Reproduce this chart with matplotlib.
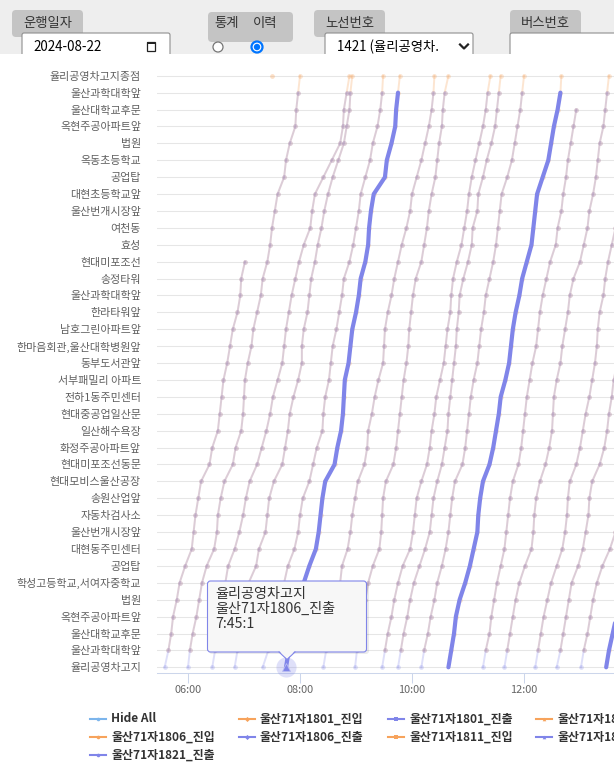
import matplotlib
matplotlib.use('Agg')
import matplotlib.pyplot as plt
from matplotlib.patches import FancyBboxPatch, Rectangle, Polygon, Circle
from matplotlib.lines import Line2D

plt.rcParams['font.family'] = ['Noto Sans CJK KR', 'DejaVu Sans']

# stops, bottom (index 0) to top (index 35)
stops = ['율리공영차고지', '울산과학대학앞', '울산대학교후문', '옥현주공아파트앞', '법원',
         '학성고등학교,서여자중학교', '공업탑', '대현동주민센터', '울산번개시장앞', '자동차검사소',
         '송원산업앞', '현대모비스울산공장', '현대미포조선동문', '화정주공아파트앞', '일산해수욕장',
         '현대중공업일산문', '전하1동주민센터', '서부패밀리 아파트', '동부도서관앞',
         '한마음회관,울산대학병원앞', '남호그린아파트앞', '한라타워앞', '울산과학대학앞', '송정타워',
         '현대미포조선', '효성', '여천동', '울산번개시장앞', '대현초등학교앞', '공업탑',
         '옥동초등학교', '법원', '옥현주공아파트앞', '울산대학교후문', '울산과학대학앞',
         '율리공영차고지종점']

# each trip: minutes after midnight at stop 0, 1, 2, ...
trip_bus = ['1801', '1804', '1811', '1821', '1801', '1806', '1811', '1821', '1801',
            '1804', '1811', '1806', '1821', '1801', '1804', '1811', '1821', '1806']
trip_times = [
    [335, 339, 342, 344, 348, 351, 357, 364, 366, 368, 371, 374, 383, 386, 392, 394, 396, 398, 402, 405, 408, 413, 416, 417, 421],
    [360, 362, 365, 369, 372, 375, 380, 388, 391, 392, 395, 399, 408, 411, 417, 419, 420, 421, 424, 428, 430, 434, 438, 440, 445, 448, 450, 453, 456, 463, 465, 469, 475, 476, 478, 480],
    [386, 389, 391, 394, 398, 400, 403, 410, 415, 419, 422, 426, 434, 439, 444, 448, 451, 456, 461, 463, 465, 468, 471, 475, 479, 484, 491, 493, 496, 505, 514, 523, 526, 527, 530, 533],
    [410, 413, 416, 419, 422, 425, 433, 436, 443, 445, 447, 452, 461, 464, 467, 469, 473, 478, 482, 482, 484, 488, 490, 492, 496, 499, 503, 506, 510, 515, 521, 527, 530, 533, 534, 536],
    [440, 446, 450, 454, 459, 463, 467, 474, 478, 480, 483, 490, 494, 498, 504, 505, 507, 511, 513, 515, 519, 522, 525, 527, 533, 537, 540, 543, 545, 550, 555, 558, 563, 566, 568, 569],
    [465, 468, 473, 476, 480, 484, 490, 497, 500, 502, 504, 507, 517, 520, 524, 526, 527, 528, 532, 534, 536, 540, 543, 545, 550, 553, 554, 556, 559, 571, 573, 578, 582, 583, 585, 587],
    [505, 508, 511, 514, 518, 523, 525, 531, 534, 536, 539, 542, 549, 552, 553, 557, 560, 564, 569, 570, 571, 574, 578, 581, 585, 589, 594, 598, 600, 605, 610, 614, 618, 621, 623, 624],
    [539, 541, 543, 546, 550, 553, 558, 565, 567, 568, 569, 572, 580, 583, 585, 587, 589, 591, 594, 596, 597, 599, 601, 604, 610, 613, 616, 618, 621, 625, 627, 629, 632, 633, 635, 639],
    [568, 571, 574, 578, 581, 585, 590, 598, 601, 603, 605, 610, 616, 619, 621, 624, 626, 630, 634, 636, 638, 641, 642, 644, 648, 653, 656, 659, 661, 664, 668, 672, 676, 679, 681, 684],
    [585, 588, 591, 595, 598, 602, 608, 614, 619, 621, 623, 627, 632, 635, 638, 639, 641, 643, 645, 647, 648, 650, 651, 655, 660, 664, 665, 670, 671, 676, 680, 685, 689, 691, 693, 695],
    [610, 613, 617, 620, 624, 627, 632, 636, 639, 641, 643, 646, 654, 657, 659, 661, 663, 666, 670, 672, 674, 677, 679, 683, 687, 690, 692, 694, 696, 702, 707, 710, 713, 716, 718, 720],
    [639, 642, 645, 647, 651, 657, 662, 666, 670, 671, 673, 676, 683, 687, 690, 693, 695, 700, 704, 706, 708, 711, 715, 718, 723, 728, 730, 732, 734, 740, 746, 749, 752, 756, 759, 760],
    [676, 679, 683, 685, 688, 691, 695, 699, 701, 703, 705, 708, 714, 717, 719, 721, 723, 726, 729, 733, 735, 737, 740, 744, 748, 754, 756, 760, 762, 765, 767, 770, 773, 776],
    [699, 702, 705, 708, 711, 715, 721, 728, 730, 731, 733, 737, 743, 747, 750, 751, 752, 755, 759, 761, 764, 767, 769, 773, 780, 784, 788, 790, 794, 797, 799, 801, 805, 807, 809, 811],
    [732, 735, 738, 741, 745, 749, 755, 761, 764, 766, 767, 769, 776, 780, 783, 786, 790, 793, 796, 798, 799, 801, 805, 807, 810, 814, 818, 821],
    [755, 759, 762, 765, 768, 771, 778, 783, 786, 789, 790, 793, 801, 806, 809, 811, 814, 816, 820],
    [781, 784, 788, 791, 794, 798, 804, 812, 818],
    [808, 811, 815, 819],
]
# lone arrival at the terminal of the first trip
extra_in_time = 450
extra_in_stop = 35

x_ticks = [360, 480, 600, 720]
x_tick_labels = ['06:00', '08:00', '10:00', '12:00']

legend_labels = ['Hide All', '울산71자1801_진입', '울산71자1801_진출', '울산71자1804_진입', '울산71자1804_진출',
                 '울산71자1806_진입', '울산71자1806_진출', '울산71자1811_진입', '울산71자1811_진출',
                 '울산71자1821_진입', '울산71자1821_진출']

hover_bus = '1806'
tooltip_lines = ['율리공영차고지', '울산71자1806_진출', '7:45:1']

ORANGE = '#f7a35c'
PURPLE = '#8085e9'
W, H = 614, 775

fig = plt.figure(figsize=(W / 100, H / 100), dpi=100)
fig.patch.set_facecolor('white')

# main chart axes (pixel layout: x 157..614, y 70..673)
ax = fig.add_axes([157 / W, (H - 673) / H, (W - 157) / W, (673 - 70) / H])
ax.set_xlim(326.8, 816.4)
ax.set_ylim(-0.337, 35.34)

for bus, times in zip(trip_bus, trip_times):
    n = len(times)
    out_t = times[:min(n, 35)]
    out_s = list(range(len(out_t)))
    in_t = times[1:]
    in_s = list(range(1, n))
    ax.plot(in_t, in_s, color=ORANGE, lw=1.4, alpha=0.28, marker='o', ms=3.4, mew=0, zorder=2)
    if bus == hover_bus:
        ax.plot(out_t, out_s, color=PURPLE, lw=3.0, zorder=6, solid_capstyle='round',
                solid_joinstyle='round')
    else:
        ax.plot(out_t, out_s, color=PURPLE, lw=1.4, alpha=0.26, marker='o', ms=3.4, mew=0, zorder=3)

ax.plot([extra_in_time], [extra_in_stop], color=ORANGE, alpha=0.35, marker='o', ms=3.4, mew=0, zorder=2)

# hovered point
hover_t = trip_times[trip_bus.index(hover_bus)][0]
ax.plot([hover_t], [0], marker='o', ms=14.5, color=PURPLE, alpha=0.25, mew=0, clip_on=False, zorder=7)
ax.plot([hover_t], [0], marker='^', ms=6, color=PURPLE, mec='#b9bcf3', mew=0.6, clip_on=False, zorder=8)

ax.set_yticks(range(len(stops)))
ax.set_yticklabels(stops)
ax.set_xticks(x_ticks)
ax.set_xticklabels(x_tick_labels)
ax.yaxis.grid(True, color='#e6e6e6', lw=0.75)
ax.set_axisbelow(True)
for side in ['top', 'right', 'left']:
    ax.spines[side].set_visible(False)
ax.spines['bottom'].set_color('#ccd6eb')
ax.spines['bottom'].set_linewidth(0.75)
ax.tick_params(axis='y', length=0, pad=11.5, labelsize=7.9, labelcolor='#5f5f5f')
ax.tick_params(axis='x', length=7, width=0.75, color='#ccd6eb', pad=1.5, labelsize=7.9,
               labelcolor='#666666')
ax.set_facecolor('none')

# overlay in pixel coordinates for page widgets, tooltip and legend
ov = fig.add_axes([0, 0, 1, 1], zorder=10)
ov.set_xlim(0, W)
ov.set_ylim(H, 0)
ov.axis('off')
ov.patch.set_alpha(0)

# top form bar
ov.add_patch(Rectangle((0, 0), W, 54, color='#eeeeee', lw=0))
for (x0, y0, w, h, txt) in [(12, 10, 71, 27, '운행일자'), (314, 10, 71, 27, '노선번호'),
                            (510, 10, 71, 27, '버스번호')]:
    ov.add_patch(FancyBboxPatch((x0, y0), w, h, boxstyle='round,pad=0,rounding_size=4',
                                fc='#c4c4c4', ec='none'))
    ov.text(x0 + w / 2, y0 + 13, txt, ha='center', va='center', fontsize=9.6, color='#333333')
ov.add_patch(FancyBboxPatch((208, 12), 85, 30, boxstyle='round,pad=0,rounding_size=4',
                            fc='#c4c4c4', ec='none'))
ov.text(227, 23, '통계', ha='center', va='center', fontsize=9.6, color='#333333')
ov.text(265, 23, '이력', ha='center', va='center', fontsize=9.6, color='#333333')

for (x0, w) in [(22, 148), (325, 148), (510, 120)]:
    ov.add_patch(FancyBboxPatch((x0, 33), w, 30, boxstyle='round,pad=0,rounding_size=2',
                                fc='white', ec='#8f8f8f', lw=0.8))
ov.text(33, 47, '2024-08-22', ha='left', va='center', fontsize=9.6, color='black')
ov.add_patch(Rectangle((147, 42), 8, 9, fc='none', ec='#222222', lw=0.9))
ov.add_patch(Rectangle((147, 42), 8, 2.2, fc='#222222', ec='none'))
ov.text(337, 47, '1421 (율리공영차.', ha='left', va='center', fontsize=9.6, color='black')
ov.add_line(Line2D([460, 464, 468], [44.5, 48.5, 44.5], color='#222222', lw=1.6))
ov.add_patch(Circle((218, 47), 5, fc='white', ec='#767676', lw=0.9))
ov.add_patch(Circle((257, 47), 5.5, fc='white', ec='#0075ff', lw=1.6))
ov.add_patch(Circle((257, 47), 3.2, fc='#0075ff', ec='none'))
# chart container covers the bottom of the inputs
ov.add_patch(Rectangle((0, 54), W, 14, color='white', lw=0))

# tooltip
ov.add_patch(FancyBboxPatch((209, 583), 160, 71, boxstyle='round,pad=0,rounding_size=3',
                            fc='black', ec='none', alpha=0.08))
ov.add_patch(FancyBboxPatch((207.5, 581), 159, 71, boxstyle='round,pad=0,rounding_size=3',
                            fc='#f7f7f7', ec=PURPLE, lw=0.8))
ov.add_patch(Polygon([(279.5, 651), (287, 659.5), (294.5, 651)], closed=True, fc='#f7f7f7', ec='none'))
ov.add_line(Line2D([279, 287, 295], [652, 659.5, 652], color=PURPLE, lw=0.8))
for i, line in enumerate(tooltip_lines):
    ov.text(215, 594 + i * 15, line, ha='left', va='center', fontsize=10.2, color='#333333')

# legend
col_x = [90, 239, 388, 536, 685]
row_y = [719, 737, 755]
marks = ['o', 'D', 's', '^', 'v']
for i, lab in enumerate(legend_labels):
    r, c = divmod(i, 5)
    x0, y0 = col_x[c], row_y[r]
    if lab == 'Hide All':
        col = '#7cb5ec'
    elif lab.endswith('진입'):
        col = ORANGE
    else:
        col = PURPLE
    ov.add_line(Line2D([x0, x0 + 16], [y0, y0], color=col, lw=1.5))
    ov.add_line(Line2D([x0 + 8], [y0], color=col, marker=marks[i % 5], ms=2.6, mew=0))
    ov.text(x0 + 21, y0, lab, ha='left', va='center', fontsize=8.6, fontweight='bold',
            color='#333333', clip_on=False)

fig.savefig('out.png', dpi=100)
